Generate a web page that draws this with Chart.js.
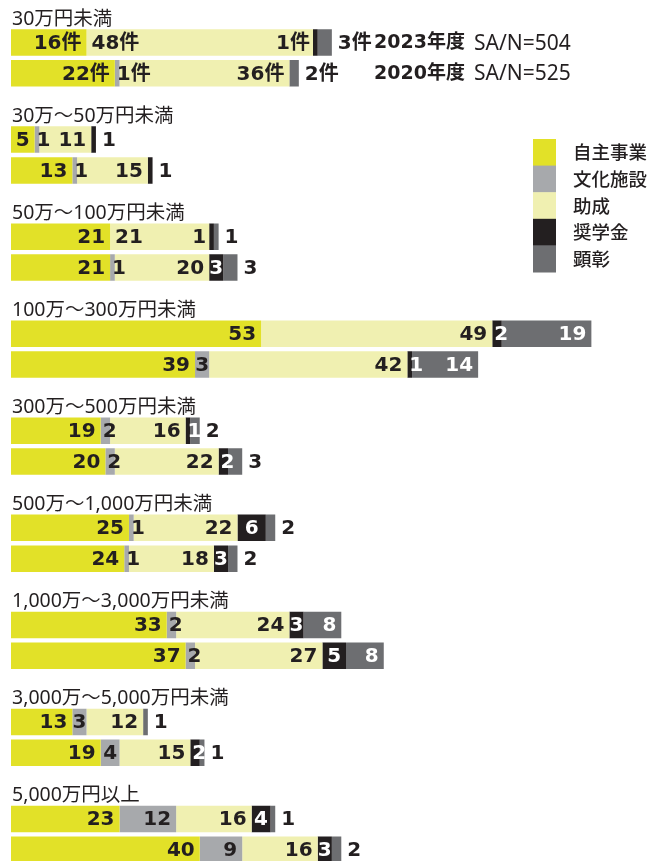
<!DOCTYPE html>
<html lang="ja">
<head>
<meta charset="utf-8">
<title>助成規模別 事業内訳</title>
<script src="https://cdn.jsdelivr.net/npm/chart.js@4"></script>
<style>
  html, body { margin: 0; padding: 0; background: #fff; overflow: hidden; }
  #contenitore { width: 651px; height: 861px; overflow: hidden; }
  canvas { display: block; }
</style>
</head>
<body>
<div id="contenitore">
  <!-- il canvas è più alto della finestra: l'ultima barra arriva al bordo inferiore -->
  <canvas id="grafico" width="651" height="883"></canvas>
</div>
<script>
// Categorie (fasce di importo) e tipologie di attività
const categorie = [
  '30万円未満', '30万～50万円未満', '50万～100万円未満', '100万～300万円未満',
  '300万～500万円未満', '500万～1,000万円未満', '1,000万～3,000万円未満',
  '3,000万～5,000万円未満', '5,000万円以上'
];
const tipologie = ['自主事業', '文化施設', '助成', '奨学金', '顕彰'];
const anni = ['2023年度', '2020年度'];
const campioni = ['SA/N=504', 'SA/N=525'];

// 2023年度
const jishu2023 = [16, 5, 21, 53, 19, 25, 33, 13, 23];
const bunka2023 = [0, 1, 0, 0, 2, 1, 2, 3, 12];
const josei2023 = [48, 11, 21, 49, 16, 22, 24, 12, 16];
const shogaku2023 = [1, 1, 1, 2, 1, 6, 3, 0, 4];
const kensho2023 = [3, 0, 1, 19, 2, 2, 8, 1, 1];

// 2020年度
const jishu2020 = [22, 13, 21, 39, 20, 24, 37, 19, 40];
const bunka2020 = [1, 1, 1, 3, 2, 1, 2, 4, 9];
const josei2020 = [36, 15, 20, 42, 22, 18, 27, 15, 16];
const shogaku2020 = [0, 1, 3, 1, 2, 3, 5, 2, 3];
const kensho2020 = [2, 0, 3, 14, 3, 2, 8, 1, 2];

const serie = [
  [jishu2023, bunka2023, josei2023, shogaku2023, kensho2023],
  [jishu2020, bunka2020, josei2020, shogaku2020, kensho2020]
];

const colori = ['#e2e128', '#a7a9ac', '#f0f0b1', '#231f20', '#6d6e71'];
const testoScuro = '#231f20';
const fontValori = "bold 20px 'DejaVu Sans', 'Noto Sans CJK JP'";

const datasets = [];
anni.forEach((anno, a) => {
  tipologie.forEach((tipo, t) => {
    datasets.push({
      label: tipo,
      data: serie[a][t],
      backgroundColor: colori[t],
      stack: anno,
      anno: a,
      tipo: t
    });
  });
});

// titoli delle fasce sopra ogni coppia di barre
const titoliCategorie = {
  id: 'titoliCategorie',
  afterDatasetsDraw(chart) {
    const ctx = chart.ctx;
    const meta = chart.getDatasetMeta(0);
    ctx.save();
    ctx.font = "19.5px 'Noto Sans', 'Noto Sans CJK JP'";
    ctx.fillStyle = testoScuro;
    ctx.textBaseline = 'alphabetic';
    ctx.textAlign = 'left';
    categorie.forEach((cat, i) => {
      const el = meta.data[i];
      const { y, height } = el.getProps(['y', 'height'], true);
      ctx.fillText(cat, 12, y - height / 2 - 4.5);
    });
    ctx.restore();
  }
};

// etichette dei valori sui segmenti
const etichetteValori = {
  id: 'etichetteValori',
  afterDatasetsDraw(chart) {
    const ctx = chart.ctx;
    ctx.save();
    ctx.font = fontValori;
    ctx.textBaseline = 'middle';

    anni.forEach((anno, a) => {
      categorie.forEach((cat, i) => {
        const segmenti = [];
        let yBarra = 0;
        chart.data.datasets.forEach((ds, d) => {
          if (ds.anno !== a) return;
          const el = chart.getDatasetMeta(d).data[i];
          const p = el.getProps(['x', 'base', 'y'], true);
          yBarra = p.y;
          const valore = ds.data[i];
          if (!valore) return;
          segmenti.push({ tipo: ds.tipo, valore, inizio: Math.min(p.x, p.base), fine: Math.max(p.x, p.base) });
        });
        if (!segmenti.length) return;

        const fineBarra = segmenti[segmenti.length - 1].fine;
        const suffisso = i === 0 ? '件' : '';
        const etichette = [];

        segmenti.forEach((s, k) => {
          const testo = s.valore + suffisso;
          const w = ctx.measureText(testo).width;
          const larghezza = s.fine - s.inizio;
          const scuro = s.tipo >= 3;
          let et;
          if (k === segmenti.length - 1 && larghezza < w + 8) {
            et = { testo, x: fineBarra + 6, w, colore: testoScuro };
          } else if (larghezza >= w + 8 && s.tipo !== 3) {
            et = { testo, x: s.fine - 5 - w, w, colore: scuro ? '#fff' : testoScuro };
          } else if (larghezza >= w) {
            et = { testo, x: (s.inizio + s.fine) / 2 - w / 2, w, colore: scuro ? '#fff' : testoScuro };
          } else if (s.inizio + 2 + w <= fineBarra + 2.5) {
            et = { testo, x: s.inizio + 2, w, colore: scuro ? '#fff' : testoScuro };
          } else {
            // non c'è posto: a sinistra del segmento, e l'etichetta precedente va all'inizio
            et = { testo, x: s.inizio - 3 - w, w, colore: testoScuro };
            const prec = etichette[etichette.length - 1];
            if (prec && prec.x + prec.w > et.x - 3) {
              prec.x = prec.seg.inizio + 5;
            }
          }
          et.seg = s;
          etichette.push(et);
        });

        ctx.textAlign = 'left';
        etichette.forEach(et => {
          ctx.fillStyle = et.colore;
          ctx.fillText(et.testo, et.x, yBarra + 1);
        });

        // anno e campione accanto alla prima coppia di barre
        if (i === 0) {
          ctx.fillStyle = testoScuro;
          ctx.font = "bold 19px 'DejaVu Sans', 'Noto Sans CJK JP'";
          ctx.fillText(anno, 374, yBarra + 1);
          ctx.font = "21px 'Noto Sans', 'Noto Sans CJK JP'";
          ctx.fillText(campioni[a], 474, yBarra + 1);
          ctx.font = fontValori;
        }
      });
    });
    ctx.restore();
  }
};

// legenda a quadrati sulla destra
const legendaQuadrati = {
  id: 'legendaQuadrati',
  afterDraw(chart) {
    const ctx = chart.ctx;
    const passo = 26.6;
    ctx.save();
    ctx.font = "500 18.5px 'Noto Sans CJK JP'";
    ctx.textBaseline = 'middle';
    ctx.textAlign = 'left';
    tipologie.forEach((tipo, t) => {
      const y = 139 + t * passo;
      ctx.fillStyle = colori[t];
      ctx.fillRect(533, y, 23, passo + 0.5);
      ctx.fillStyle = testoScuro;
      ctx.fillText(tipo, 573, y + passo / 2);
    });
    ctx.restore();
  }
};

const contesto = document.getElementById('grafico').getContext('2d');
new Chart(contesto, {
  type: 'bar',
  data: { labels: categorie, datasets },
  options: {
    indexAxis: 'y',
    responsive: false,
    animation: false,
    devicePixelRatio: 1,
    layout: { padding: { left: 11, right: 3, top: 9.4, bottom: 0 } },
    datasets: {
      bar: { categoryPercentage: 0.635, barPercentage: 0.86, borderWidth: 0 }
    },
    scales: {
      x: { display: false, stacked: true, min: 0, max: 135 },
      y: { display: false, stacked: true }
    },
    plugins: {
      legend: { display: false },
      tooltip: { enabled: false }
    }
  },
  plugins: [titoliCategorie, etichetteValori, legendaQuadrati]
});
</script>
</body>
</html>
